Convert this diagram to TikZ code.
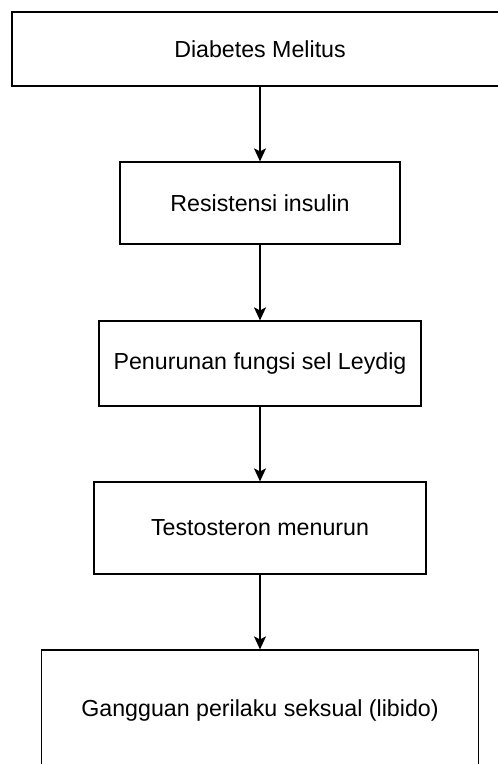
\documentclass[tikz,border=0pt]{standalone}
\usepackage{fontspec}
\setmainfont{Liberation Sans}
\usetikzlibrary{arrows.meta}
\begin{document}
\begin{tikzpicture}[x=0.5pt,y=-0.5pt,
  kotak/.style={draw,line width=0.6pt,inner sep=0pt,font=\fontsize{11.6}{14}\selectfont},
  panah/.style={-{Stealth[length=6.5pt,width=6pt,inset=1.5pt]},line width=0.7pt}]
\useasboundingbox (0,0) rectangle (497,764);
\foreach[count=\k] \t/\y/\w/\h in {Diabetes Melitus/49/248/37,Resistensi insulin/203/140/41,Penurunan fungsi sel Leydig/363.5/161/42.5,Testosteron menurun/528/166/46,Gangguan perilaku seksual (libido)/710/218.5/60}
    \node [kotak,minimum width=\w pt,minimum height=\h pt] (b\k) at (260,\y) {\t};
\foreach \k [evaluate=\k as \j using int(\k+1)] in {1,...,4}
    \draw[panah] (b\k) -- (b\j);
\end{tikzpicture}
\end{document}
